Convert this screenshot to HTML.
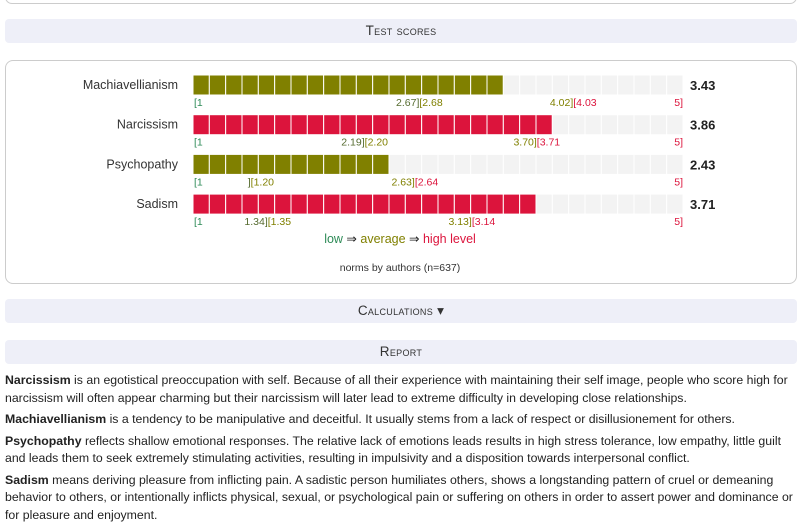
<!DOCTYPE html>
<html><head><meta charset="utf-8">
<style>
body{margin:0;width:800px;height:526px;overflow:hidden;background:#fff;font-family:"Liberation Sans",sans-serif;color:#222;position:relative}
.abs{position:absolute}
.band{position:absolute;left:5px;width:792px;height:24px;background:#eeeff8;border-radius:4px;text-align:center;line-height:24px;font-size:13.5px;letter-spacing:.3px;color:#333;font-variant:small-caps}
.card{position:absolute;left:5px;width:790px;border:1px solid #ccc;border-radius:8px}
p{margin:0 0 4px 0}
#report{position:absolute;left:5px;top:372px;width:794px;font-size:12.3px;line-height:17.5px;color:#222}
</style></head><body>
<div class="card" style="top:-10px;height:12px;"></div>
<div class="band" style="top:19px">Test scores</div>
<div class="card" style="top:60px;height:222px"></div>
<svg id="chart" class="abs" style="left:0;top:60px" width="800" height="172"></svg>
<div class="abs" style="left:0;width:800px;top:231px;text-align:center;font-size:12.5px"><span style="color:#2e8b57">low</span> ⇒ <span style="color:#808000">average</span> ⇒ <span style="color:#dc143c">high level</span></div>
<div class="abs" style="left:0;width:800px;top:262px;text-align:center;font-size:10.5px;color:#333">norms by authors (n=637)</div>
<div class="band" style="top:299px">Calculations ▾</div>
<div class="band" style="top:340px">Report</div>
<div id="report">
<p><b>Narcissism</b> is an egotistical preoccupation with self. Because of all their experience with maintaining their self image, people who score high for narcissism will often appear charming but their narcissism will later lead to extreme difficulty in developing close relationships.</p>
<p><b>Machiavellianism</b> is a tendency to be manipulative and deceitful. It usually stems from a lack of respect or disillusionement for others.</p>
<p><b>Psychopathy</b> reflects shallow emotional responses. The relative lack of emotions leads results in high stress tolerance, low empathy, little guilt and leads them to seek extremely stimulating activities, resulting in impulsivity and a disposition towards interpersonal conflict.</p>
<p><b>Sadism</b> means deriving pleasure from inflicting pain. A sadistic person humiliates others, shows a longstanding pattern of cruel or demeaning behavior to others, or intentionally inflicts physical, sexual, or psychological pain or suffering on others in order to assert power and dominance or for pleasure and enjoyment.</p>
</div>
<script>
const traits=["Machiavellianism","Narcissism","Psychopathy","Sadism"];
const scores=[3.43,3.86,2.43,3.71];
const lowUpper=[2.67,2.19,1.19,1.34];
const avgUpper=[4.02,3.70,2.63,3.13];
const levels=["avg","high","avg","high"];
const NS="http://www.w3.org/2000/svg";
const svg=document.getElementById('chart');
const X0=193,X1=683,SEG=30,rowH=39.7,top0=15;
const segW=(X1-X0)/SEG;
function filledSegs(v){return Math.round((v-1)/4*SEG+0.9);}
function bx(v){return 229+(v-1)*114;}
function mk(t,a){const e=document.createElementNS(NS,t);for(const k in a)e.setAttribute(k,a[k]);return e;}
function txt(x,y,s,fill,anchor,size,weight){const e=mk('text',{x:x,y:y,fill:fill,'text-anchor':anchor||'start','font-size':size||10.5,'font-family':'Liberation Sans, sans-serif'});if(weight)e.setAttribute('font-weight',weight);e.textContent=s;svg.appendChild(e);return e;}
traits.forEach((t,i)=>{
  const y=top0+i*rowH;
  const g=mk('g',{});
  
  
  svg.appendChild(g);
  const lab=txt(178,y+14,t,'#333','end',12.5);
  
  
  const col=levels[i]=='high'?'#dc143c':'#808000';
  const n=filledSegs(scores[i]);
  for(let s=0;s<SEG;s++){
    const r=mk('rect',{x:X0+s*segW,y:y,width:segW,height:20,fill:s<n?col:'#f3f3f3',stroke:'#fff','stroke-width':1});
    
    
    g.appendChild(r);
  }
  const sv=txt(690,y+15,scores[i].toFixed(2),'#222','start',13,'bold');
  
  
  const ly=y+31;
  txt(X0+1,ly,'[1','#2e8b57');
  const a=bx(lowUpper[i]);
  txt(a,ly,lowUpper[i]>1.2?lowUpper[i].toFixed(2)+']':']','#556b2f','end');
  txt(a,ly,'['+(lowUpper[i]+0.01).toFixed(2),'#808000');
  const b=bx(avgUpper[i]);
  txt(b,ly,avgUpper[i].toFixed(2)+']','#808000','end');
  txt(b,ly,'['+(avgUpper[i]+0.01).toFixed(2),'#dc143c');
  txt(X1,ly,'5]','#dc143c','end');
});
</script>
</body></html>
